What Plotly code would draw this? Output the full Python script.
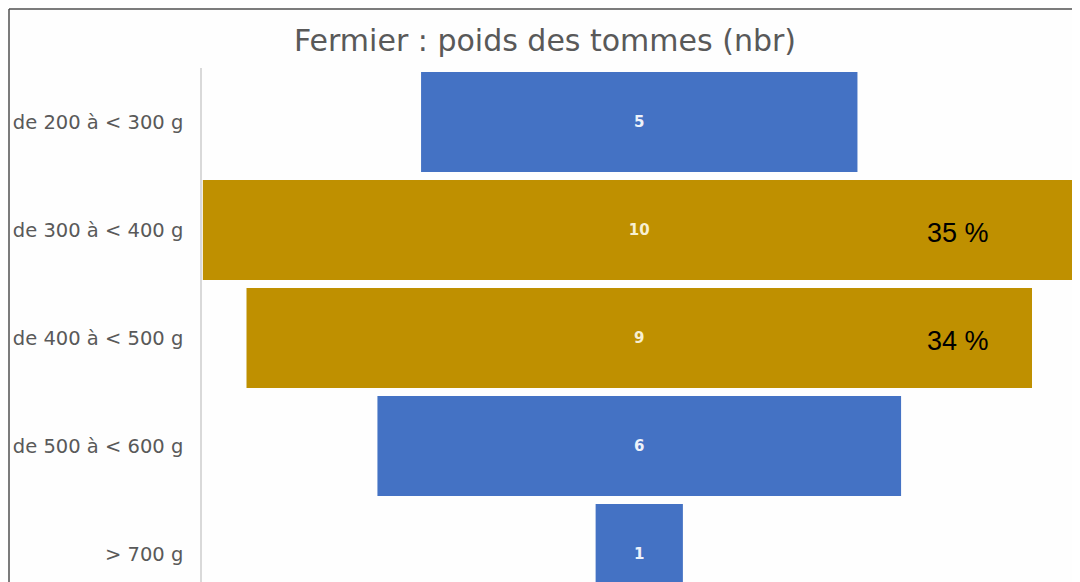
import plotly.graph_objects as go

categories = ["de 200 à < 300 g", "de 300 à < 400 g", "de 400 à < 500 g", "de 500 à < 600 g", "> 700 g"]
counts = [5, 10, 9, 6, 1]
bar_colors = ["#4472C4", "#BF9000", "#BF9000", "#4472C4", "#4472C4"]
text_colors = ["#EEF2FA", "#F7EFD2", "#F7EFD2", "#EEF2FA", "#EEF2FA"]
pct_labels = {"de 300 à < 400 g": "35 %", "de 400 à < 500 g": "34 %"}

# page has an 8px body margin; figure sized to fill the rest of the 1080x582 window
OFF = 8
W, H = 1080 - OFF, 582 - OFF
L, T = 202 - OFF, 68 - OFF

fig = go.Figure(go.Funnel(
    y=categories,
    x=counts,
    marker=dict(color=bar_colors, line=dict(width=0)),
    textinfo="value",
    textposition="inside",
    insidetextanchor="middle",
    textfont=dict(color=text_colors, size=15, family="DejaVu Sans", weight="bold"),
    connector=dict(visible=False),
))

for cat, lab in pct_labels.items():
    fig.add_annotation(x=3.65, y=cat, text=lab, showarrow=False,
                       font=dict(size=27, color="#000000", family="Liberation Sans"),
                       xref="x", yref="y", yshift=-3)

# outer frame (left and top edges), drawn at the visible edge of the figure
px = lambda v: (v - L) / (W - L)
py = lambda v: 1 - (v - T) / (H - T)
fig.add_shape(type="line", xref="paper", yref="paper", x0=px(1), x1=px(1), y0=py(1), y1=py(600),
              line=dict(color="#505050", width=1.5))
fig.add_shape(type="line", xref="paper", yref="paper", x0=px(1), x1=px(1100), y0=py(1), y1=py(1),
              line=dict(color="#505050", width=1.5))

fig.update_layout(
    width=W, height=H,
    margin=dict(l=L, r=0, t=T, b=0, pad=0),
    paper_bgcolor="#FEFEFE", plot_bgcolor="#FEFEFE",
    funnelgap=0.075,
    title=dict(text="Fermier : poids des tommes (nbr)", x=(545 - OFF) / W, xanchor="center",
               y=1 - (40 - OFF) / H, yanchor="middle",
               font=dict(size=30, color="#595959", family="DejaVu Sans")),
    showlegend=False,
    xaxis=dict(range=[-5.01, 5.05], visible=False, fixedrange=True),
    yaxis=dict(range=[4.26, -0.5], autorange=False, showline=True, linecolor="#D9D9D9", linewidth=1.5,
               showgrid=False, zeroline=False, ticks="", ticklabelstandoff=13,
               tickfont=dict(size=19.5, color="#595959", family="DejaVu Sans")),
)

fig.write_html("out.html")
